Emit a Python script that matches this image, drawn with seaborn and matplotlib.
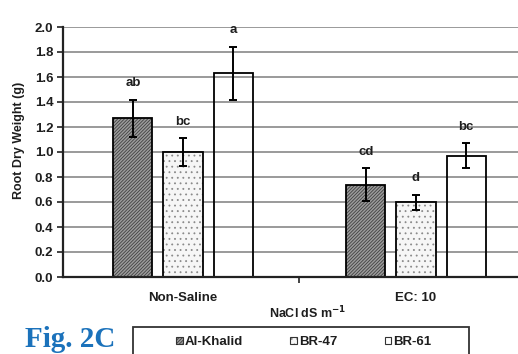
import matplotlib
matplotlib.use("Agg")
import matplotlib.pyplot as plt
import matplotlib.colors as mcolors
from matplotlib.patches import Rectangle, Patch
import seaborn as sns
import pandas as pd
import numpy as np

# ---- data ----
conditions = ["Non-Saline", "EC: 10"]
cultivars = ["Al-Khalid", "BR-47", "BR-61"]
al_khalid = [1.27, 0.74]
br47 = [1.00, 0.60]
br61 = [1.63, 0.97]
al_khalid_err = [0.15, 0.13]
br47_err = [0.11, 0.06]
br61_err = [0.21, 0.10]
al_khalid_letters = ["ab", "cd"]
br47_letters = ["bc", "d"]
br61_letters = ["a", "bc"]
yticks = [0.0, 0.2, 0.4, 0.6, 0.8, 1.0, 1.2, 1.4, 1.6, 1.8, 2.0]

values = [al_khalid, br47, br61]
errors = [al_khalid_err, br47_err, br61_err]
letters = [al_khalid_letters, br47_letters, br61_letters]

rows = []
for cv, vals in zip(cultivars, values):
    for cond, v in zip(conditions, vals):
        rows.append({"cond": cond, "cultivar": cv, "value": v})
df = pd.DataFrame(rows)

sns.set_style("white")
plt.rcParams["font.family"] = ["Liberation Sans", "DejaVu Sans"]
plt.rcParams["font.weight"] = "bold"
plt.rcParams["hatch.linewidth"] = 0.6

W, H = 518, 354
fig = plt.figure(figsize=(W / 100, H / 100), dpi=100)
fig.patch.set_facecolor("white")
ax = fig.add_axes([63 / W, 77 / H, 466 / W, 250 / H])

face = {"Al-Khalid": "#9c9c9c", "BR-47": "#f6f6f6", "BR-61": "#ffffff"}
sns.barplot(data=df, x="cond", y="value", hue="cultivar", order=conditions,
            hue_order=cultivars, palette=face, width=0.646, gap=0.22,
            errorbar=None, edgecolor="black", linewidth=1.3, legend=False,
            saturation=1, ax=ax)

hatches = ["//////////", "...", None]
hatch_cols = ["#404040", "#8a8a8a", None]
text_col = "#1e1e1e"
for cont, h, hc, errs, lets in zip(ax.containers, hatches, hatch_cols, errors, letters):
    xs, ys = [], []
    for p in cont.patches:
        if h:
            p.set_hatch(h)
            p._hatch_color = mcolors.to_rgba(hc)
        else:
            p.set_facecolor((1, 1, 1, 0))
        xs.append(p.get_x() + p.get_width() / 2)
        ys.append(p.get_height())
    ax.errorbar(xs, ys, yerr=errs, fmt="none", ecolor="black", elinewidth=1.4,
                capsize=3, capthick=1.4, zorder=5)
    for x, y, e, l in zip(xs, ys, errs, lets):
        ax.annotate(l, (x, y + e), xytext=(0, 12), textcoords="offset points",
                    ha="center", va="center", fontsize=9.5, fontweight="bold",
                    color=text_col)

ax.set_ylim(0, 2.0)
ax.set_xlim(-0.515, 1.485)
ax.set_yticks(yticks)
ax.set_yticklabels([f"{t:.1f}" for t in yticks], fontsize=9.5, fontweight="bold", color=text_col)
ax.set_axisbelow(True)
ax.yaxis.grid(True, color="#9a9a9a", linewidth=1.4)
ax.xaxis.grid(False)
for s in ["top", "right"]:
    ax.spines[s].set_visible(False)
for s in ["left", "bottom"]:
    ax.spines[s].set_color("#222222")
    ax.spines[s].set_linewidth(1.6)
ax.tick_params(axis="y", left=True, length=4, width=1.2, color="#222222", pad=3)
ax.set_xticks([0, 1])
ax.set_xticklabels(conditions, fontsize=9.5, fontweight="bold", color=text_col)
ax.tick_params(axis="x", bottom=False, pad=7)
ax.set_xticks([0.5], minor=True)
ax.tick_params(axis="x", which="minor", bottom=True, length=4, width=1.2, color="#222222")
ax.set_xlabel("")
ax.set_ylabel("")

fig.text(308 / W, 1 - 313 / H, "NaCl dS m$^{\\mathbf{-1}}$", ha="center", va="center",
         fontsize=9, fontweight="bold", color=text_col)
fig.text(19 / W, 1 - 140 / H, "Root Dry Weight (g)", rotation=90, ha="center",
         va="center", fontsize=9, fontweight="bold", color=text_col)

# legend box
fig.add_artist(Rectangle((133 / W, -0.05), (469 - 133) / W, (H - 327) / H + 0.05,
                         transform=fig.transFigure, facecolor="white",
                         edgecolor="#333333", linewidth=1.3, clip_on=False))
handles = []
for cv, h, hc in zip(cultivars, hatches, hatch_cols):
    p = Patch(facecolor=face[cv], edgecolor="#333333", linewidth=0.8,
              hatch=h if h else None, label=cv)
    if hc:
        p._hatch_color = mcolors.to_rgba(hc)
    handles.append(p)
leg = fig.legend(handles=handles, loc="center left",
                 bbox_to_anchor=(176 / W, 1 - 342 / H), ncol=3, frameon=False,
                 fontsize=9.5, handlelength=0.5, handleheight=0.5,
                 handletextpad=0.15, columnspacing=3.6, borderpad=0, borderaxespad=0)
for t in leg.get_texts():
    t.set_fontweight("bold")
    t.set_color(text_col)

fig.text(25 / W, 1 / H, "Fig. 2C", fontfamily="Liberation Serif", fontweight="bold",
         fontsize=21, color="#1b72bb", ha="left", va="bottom")

fig.savefig("out.png", dpi=100)
